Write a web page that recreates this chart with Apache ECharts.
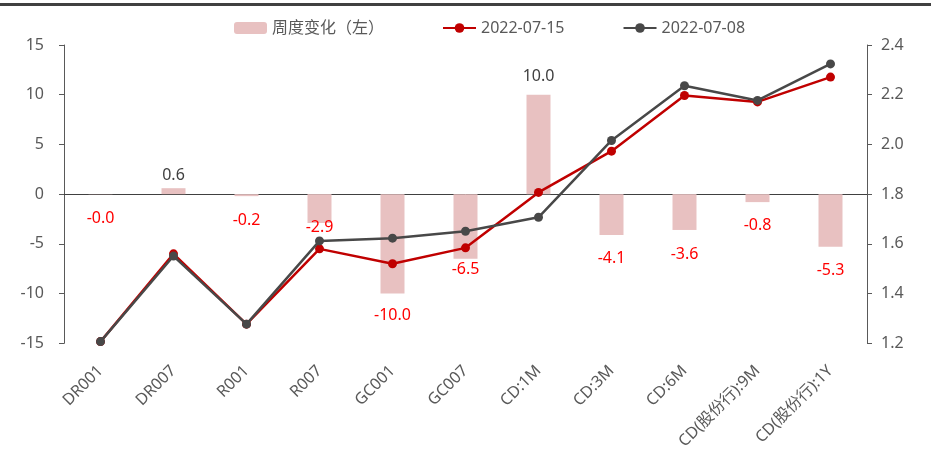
<!DOCTYPE html>
<html>
<head>
<meta charset="utf-8">
<script src="https://cdn.jsdelivr.net/npm/echarts@6/dist/echarts.min.js"></script>
<style>
  html, body { margin: 0; padding: 0; background: #fff; }
  #chart { width: 931px; height: 452px; }
</style>
</head>
<body>
<div id="chart"></div>
<script>
const categories = ["DR001", "DR007", "R001", "R007", "GC001", "GC007", "CD:1M", "CD:3M", "CD:6M", "CD(股份行):9M", "CD(股份行):1Y"];
// weekly change in bp (left axis)
const weeklyChange = [-0.02, 0.6, -0.2, -2.9, -10.0, -6.5, 10.0, -4.1, -3.6, -0.8, -5.3];
// yields (right axis)
const rate0715 = [1.207, 1.56, 1.277, 1.58, 1.52, 1.584, 1.807, 1.973, 2.197, 2.171, 2.271];
const rate0708 = [1.207, 1.551, 1.277, 1.612, 1.623, 1.651, 1.707, 2.016, 2.236, 2.177, 2.324];

// label gap from bar end, nudged where the original moved labels off the lines
const labelGap = [16, 5, 16, -4, 14, 3, 10, 16, 16, 15, 16];

const font = "'Noto Sans', 'Noto Sans CJK SC', sans-serif";
const axisColor = "#595959";

const chart = echarts.init(document.getElementById("chart"), null, { renderer: "canvas" });

chart.setOption({
  animation: false,
  textStyle: { fontFamily: font },
  graphic: [{
    type: "rect",
    shape: { x: 0, y: 3, width: 931, height: 3 },
    style: { fill: "#404040" }
  }],
  legend: {
    top: 15,
    left: 229,
    itemWidth: 33,
    itemHeight: 12,
    itemGap: 58,
    textStyle: { color: axisColor, fontSize: 16, fontFamily: font },
    data: ["周度变化（左）", "2022-07-15", "2022-07-08"]
  },
  grid: { left: 64, right: 64, top: 45, bottom: 107, containLabel: false },
  xAxis: {
    type: "category",
    data: categories,
    axisLine: { show: true, onZero: true, lineStyle: { color: "#404040", width: 1 } },
    axisTick: { show: false },
    axisLabel: { color: axisColor, fontSize: 16, rotate: 45, interval: 0, margin: 25 }
  },
  yAxis: [{
    type: "value",
    min: -15, max: 15, interval: 5,
    axisLine: { show: true, lineStyle: { color: axisColor } },
    axisTick: { show: true, length: 5, lineStyle: { color: axisColor } },
    axisLabel: { color: axisColor, fontSize: 16, margin: 20 },
    splitLine: { show: false }
  }, {
    type: "value",
    min: 1.2, max: 2.4, interval: 0.2,
    axisLine: { show: true, lineStyle: { color: axisColor } },
    axisTick: { show: true, length: 5, lineStyle: { color: axisColor } },
    axisLabel: { color: axisColor, fontSize: 16, margin: 14, formatter: v => v.toFixed(1) },
    splitLine: { show: false }
  }],
  series: [{
    name: "周度变化（左）",
    type: "bar",
    yAxisIndex: 0,
    barWidth: 24,
    itemStyle: { color: "#E8C1C1" },
    data: weeklyChange.map((v, i) => ({
      value: v,
      label: {
        show: true,
        position: v >= 0 ? "top" : "bottom",
        distance: labelGap[i],
        color: v >= 0 ? "#404040" : "#FF0000",
        fontSize: 16,
        formatter: p => p.value.toFixed(1)
      }
    })),
    z: 1
  }, {
    name: "2022-07-15",
    type: "line",
    yAxisIndex: 1,
    data: rate0715,
    symbol: "circle",
    symbolSize: 9,
    lineStyle: { color: "#C00000", width: 2.5 },
    itemStyle: { color: "#C00000" },
    z: 3
  }, {
    name: "2022-07-08",
    type: "line",
    yAxisIndex: 1,
    data: rate0708,
    symbol: "circle",
    symbolSize: 9,
    lineStyle: { color: "#484848", width: 2.5 },
    itemStyle: { color: "#484848" },
    z: 4
  }]
});
</script>
</body>
</html>
